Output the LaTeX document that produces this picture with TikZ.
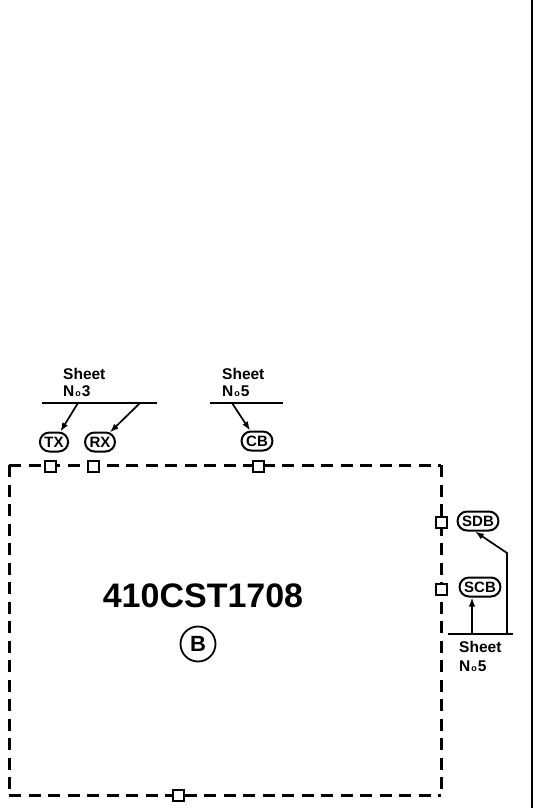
\documentclass[tikz,border=0pt]{standalone}
\usepackage{fontspec}
\setmainfont{Liberation Sans}
\usetikzlibrary{shapes.misc,arrows.meta}
\newcommand{\numo}{N\kern1pt{\fontsize{9}{9}\selectfont o}\kern1pt}
\begin{document}
\begin{tikzpicture}[x=1pt,y=-1pt,
  pin/.style={draw,line width=2pt,fill=white,minimum size=11pt,inner sep=0pt,outer sep=0pt},
  oval/.style={draw,line width=2pt,rounded rectangle,inner xsep=3pt,inner ysep=1pt,minimum height=19pt,font=\fontsize{15}{15}\selectfont\bfseries},
  sheettxt/.style={anchor=west,inner sep=0pt,font=\fontsize{15.5}{15.5}\selectfont\bfseries},
  sheetline/.style={line width=1.7pt},
  arr/.style={line width=1.7pt,-{Latex[length=9pt,width=6.5pt]}},
  bound/.style={line width=3pt,dash pattern=on 12pt off 7.5pt}]
\useasboundingbox (0,0) rectangle (543,808);
% right solid border
\coordinate (vt) at (532,0);
\coordinate (vb) at (532,808);
\draw[line width=2.8pt] (vt) -- (vb);
% dashed module boundary
\coordinate (c1) at (9,465);
\coordinate (c2) at (441,465);
\coordinate (c3) at (441,795);
\coordinate (c4) at (9,795);
\draw[bound] (c1) -- (c2);
\draw[bound] (c2) -- (c3);
\draw[bound] (c1) -- (c4);
\draw[bound] (c4) -- (c3);
% terminals
\node[pin] (txsq) at (50,466) {};
\node[pin] (rxsq) at (93,466) {};
\node[pin] (cbsq) at (258,466) {};
\node[pin] (sdbsq) at (441,522) {};
\node[pin] (scbsq) at (441,589) {};
\node[pin] (bsq) at (178,795) {};
% signal labels
\node[oval] (tx) at (54,442) {TX};
\node[oval] (rx) at (100,442) {RX};
\node[oval] (cb) at (257,441) {CB};
\node[oval] (sdb) at (478,521) {SDB};
\node[oval] (scb) at (480,587) {SCB};
% module name
\node[font=\fontsize{34}{34}\selectfont\bfseries,inner sep=0pt] (name) at (203,596) {410CST1708};
\node[draw,circle,line width=1.8pt,minimum size=35pt,inner sep=0pt,font=\fontsize{22}{22}\selectfont\bfseries] (bmark) at (198,644) {B};
% sheet 3
\node[sheettxt] (s3a) at (63,374) {Sheet};
\node[sheettxt] (s3b) at (63,391) {\numo3};
\coordinate (l3a) at (42,403);
\coordinate (l3b) at (157,403);
\draw[sheetline] (l3a) -- (l3b);
\coordinate (a1) at (78,403);
\coordinate (a2) at (140,403);
\draw[arr] (a1) -- (tx);
\draw[arr] (a2) -- (rx);
% sheet 5 top
\node[sheettxt] (s5a) at (222,374) {Sheet};
\node[sheettxt] (s5b) at (222,391) {\numo5};
\coordinate (l5a) at (210,403);
\coordinate (l5b) at (283,403);
\draw[sheetline] (l5a) -- (l5b);
\coordinate (a3) at (232,403);
\draw[arr] (a3) -- (cb);
% sheet 5 right
\coordinate (l6a) at (448,634);
\coordinate (l6b) at (513,634);
\draw[sheetline] (l6a) -- (l6b);
\node[sheettxt] (s6a) at (459,647) {Sheet};
\node[sheettxt] (s6b) at (459,666) {\numo5};
\coordinate (a4) at (472,634);
\draw[arr] (a4) -- (a4 |- scb.south);
\coordinate (a5) at (507,634);
\coordinate (a6) at (507,553);
\draw[arr] (a5) -- (a6) -- ([xshift=-3pt]sdb.south);
\end{tikzpicture}
\end{document}
